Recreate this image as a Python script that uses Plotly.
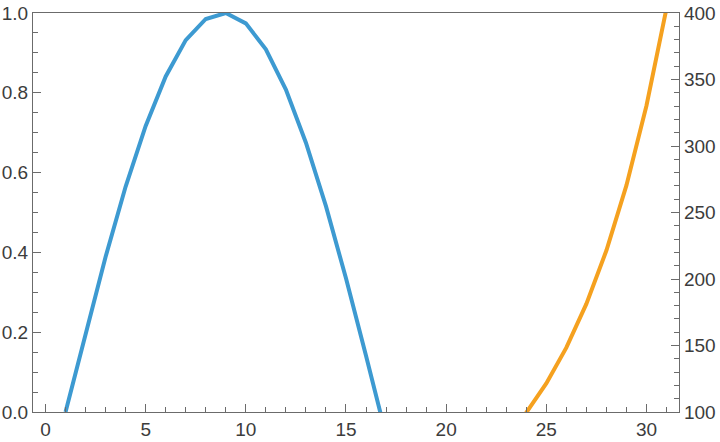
import plotly.graph_objects as go

# Blue series (left axis)
x_blue = list(range(1, 18))
y_blue = [0.0, 0.199, 0.389, 0.565, 0.717, 0.841, 0.932, 0.985, 1.0,
          0.974, 0.909, 0.808, 0.675, 0.516, 0.335, 0.141, -0.058]

# Orange series (right axis)
x_orange = list(range(23, 32))
y_orange = [81.5, 99.5, 121.5, 148.4, 181.3, 221.4, 270.4, 330.3, 403.4]

x_ticks = [0, 5, 10, 15, 20, 25, 30]
left_ticks = [0.0, 0.2, 0.4, 0.6, 0.8, 1.0]
left_labels = ["0.0", "0.2", "0.4", "0.6", "0.8", "1.0"]
right_ticks = [100, 150, 200, 250, 300, 350, 400]

BLUE = "#3d9ad1"
ORANGE = "#f5a11f"
AXIS = "#6b6b6b"
TEXT = "#3c3c3c"
FONT = dict(family="Liberation Sans, Arial, sans-serif", size=19, color=TEXT)

fig = go.Figure()
fig.add_trace(go.Scatter(x=x_blue, y=y_blue, mode="lines",
                         line=dict(color=BLUE, width=4), yaxis="y"))
fig.add_trace(go.Scatter(x=x_orange, y=y_orange, mode="lines",
                         line=dict(color=ORANGE, width=4), yaxis="y2"))

fig.update_layout(
    width=720, height=442,
    margin=dict(l=33, r=41, t=13, b=30),
    paper_bgcolor="white", plot_bgcolor="white",
    showlegend=False,
    xaxis=dict(range=[-0.625, 31.625], tickvals=x_ticks, ticks="inside",
               ticklen=8, tickwidth=1, tickcolor=AXIS, automargin=False,
               minor=dict(dtick=1, tick0=0, ticks="inside", ticklen=5,
                          tickwidth=1, tickcolor=AXIS),
               showline=True, linecolor=AXIS, linewidth=1.3, mirror=True,
               showgrid=False, zeroline=False, tickfont=FONT),
    yaxis=dict(range=[0, 1], tickvals=left_ticks, ticktext=left_labels,
               ticks="inside", ticklen=8, tickwidth=1, tickcolor=AXIS,
               automargin=False,
               minor=dict(dtick=0.05, tick0=0, ticks="inside", ticklen=5,
                          tickwidth=1, tickcolor=AXIS),
               showline=True, linecolor=AXIS, linewidth=1.3,
               showgrid=False, zeroline=False, tickfont=FONT),
    yaxis2=dict(range=[100, 400], tickvals=right_ticks, overlaying="y",
                side="right", ticks="inside", ticklen=8, tickwidth=1,
                tickcolor=AXIS, automargin=False,
                minor=dict(dtick=10, tick0=100, ticks="inside", ticklen=5,
                           tickwidth=1, tickcolor=AXIS),
                showline=True, linecolor=AXIS, linewidth=1.3,
                showgrid=False, zeroline=False, tickfont=FONT),
)

fig.write_html("out.html",
               config={"displayModeBar": False},
               post_script="document.body.style.margin='0';"
                           "document.body.style.overflow='hidden';")
